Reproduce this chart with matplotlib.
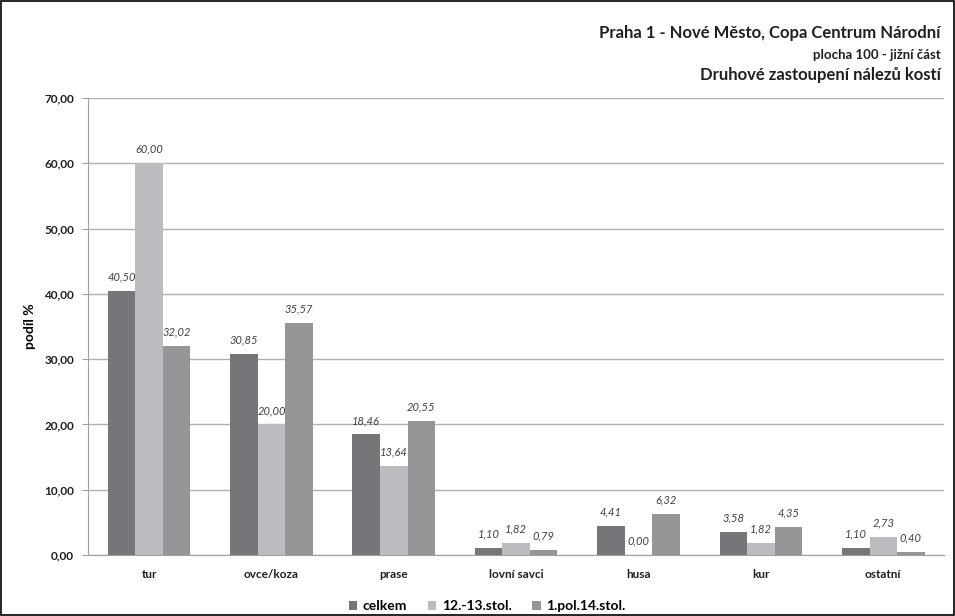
import numpy as np
import matplotlib
matplotlib.use('Agg')
import matplotlib.pyplot as plt
from matplotlib.patches import Rectangle

plt.rcParams['font.family'] = ['Lato', 'DejaVu Sans']

categories = ['tur', 'ovce/koza', 'prase', 'lovní savci', 'husa', 'kur', 'ostatní']
series_names = ['celkem', '12.-13.stol.', '1.pol.14.stol.']
celkem = [40.50, 30.85, 18.46, 1.10, 4.41, 3.58, 1.10]
stol_12_13 = [60.00, 20.00, 13.64, 1.82, 0.00, 1.82, 2.73]
stol_14 = [32.02, 35.57, 20.55, 0.79, 6.32, 4.35, 0.40]
colors = ['#76767a', '#bcbcc0', '#969699']

fig = plt.figure(figsize=(9.55, 6.16), dpi=100)
ax = fig.add_axes([0.092, 0.099, 0.897, 0.742])

x = np.arange(len(categories))
w = 0.225
for i, (vals, c, name) in enumerate(zip([celkem, stol_12_13, stol_14], colors, series_names)):
    bars = ax.bar(x + (i - 1) * w, vals, w, color=c, label=name, zorder=3)
    for b, v in zip(bars, vals):
        ax.text(b.get_x() + b.get_width() / 2, v + 1.3, f'{v:.2f}'.replace('.', ','),
                ha='center', va='bottom', fontsize=8, style='italic', color='#404040')

ax.set_xlim(-0.5, len(categories) - 0.5)
ax.set_ylim(0, 70)
ax.set_yticks(np.arange(0, 71, 10))
ax.set_yticklabels([f'{t:.2f}'.replace('.', ',') for t in np.arange(0, 71, 10)],
                   fontsize=8.5, fontweight='bold', color='#202020')
ax.set_xticks(x)
ax.set_xticklabels(categories, fontsize=8.5, fontweight='bold', color='#202020')
ax.tick_params(axis='x', length=0, pad=10)
ax.tick_params(axis='y', length=4, color='#a0a0a0', pad=6)
ax.grid(axis='y', color='#b0b0b0', linewidth=1, zorder=0)
for s in ['top', 'right']:
    ax.spines[s].set_visible(False)
ax.spines['left'].set_color('#a0a0a0')
ax.spines['bottom'].set_color('#a0a0a0')
ax.set_ylabel('podíl %', fontsize=10, fontweight='bold', labelpad=6)

fig.text(0.985, 0.946, 'Praha 1 - Nové Město, Copa Centrum Národní', ha='right', va='center',
         fontsize=12, fontweight='bold', color='#202020')
fig.text(0.985, 0.911, 'plocha 100 - jižní část', ha='right', va='center',
         fontsize=9.5, fontweight='bold', color='#202020')
fig.text(0.985, 0.879, 'Druhové zastoupení nálezů kostí', ha='right', va='center',
         fontsize=12, fontweight='bold', color='#202020')

ax.legend(loc='upper center', bbox_to_anchor=(0.466, -0.072), ncol=3, frameon=False,
          prop={'size': 10, 'weight': 'bold'}, handlelength=0.6, handleheight=0.6,
          handletextpad=0.4, columnspacing=1.5)

fig.patches.append(Rectangle((0.001, 0.001), 0.998, 0.998, transform=fig.transFigure,
                             fill=False, edgecolor='black', linewidth=1.2))

fig.savefig('out.png', dpi=100)
